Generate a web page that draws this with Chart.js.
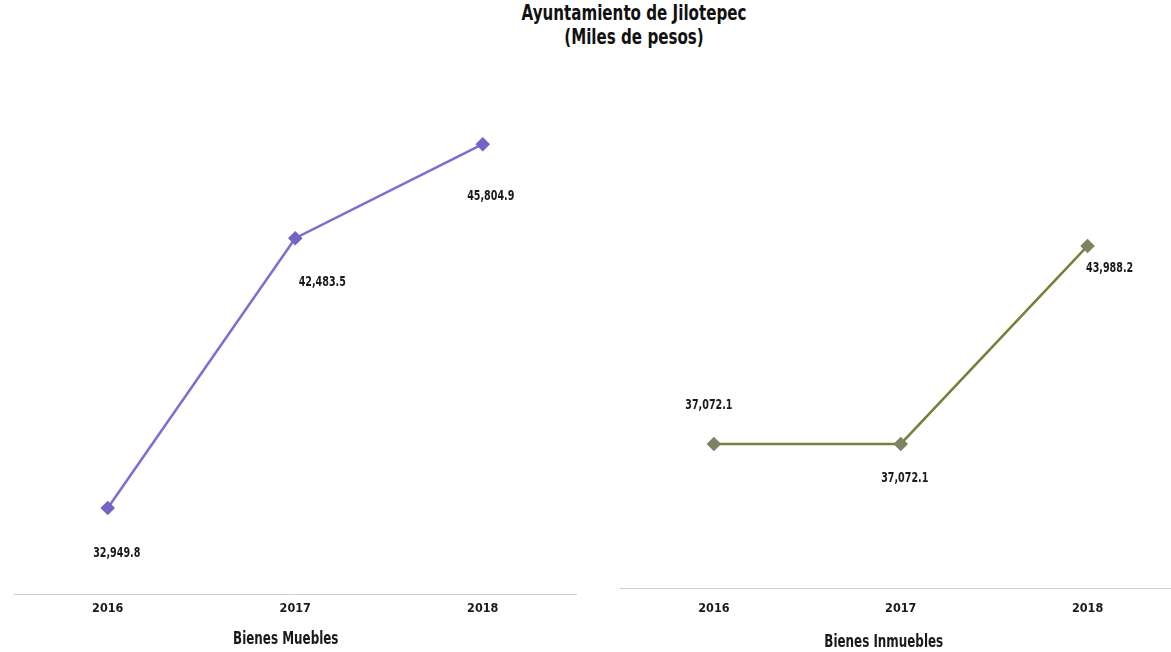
<!DOCTYPE html>
<html><head><meta charset="utf-8">
<script src="https://cdn.jsdelivr.net/npm/chart.js@4.4.0/dist/chart.umd.min.js"></script>
<style>
html,body{margin:0;padding:0;background:#fff;overflow:hidden;width:1171px;height:652px;position:relative;}
#title{position:absolute;left:0;width:1268px;top:1px;text-align:center;font-family:"Liberation Sans Narrow","DejaVu Sans Condensed","Arial Narrow",sans-serif;font-weight:bold;font-size:21px;line-height:24px;color:#111;transform:scaleX(0.8);transform-origin:634px 0;}
.wrap{position:absolute;top:0;height:652px;}
</style></head>
<body>
<div id="title">Ayuntamiento de Jilotepec<br>(Miles de pesos)</div>
<div class="wrap" style="left:0;width:590px"><canvas id="c1" width="590" height="652"></canvas></div>
<div class="wrap" style="left:590px;width:600px"><canvas id="c2" width="600" height="652"></canvas></div>
<script>
const years = ['2016', '2017', '2018'];
const bienesMuebles = [32949.8, 42483.5, 45804.9];
const bienesInmuebles = [37072.1, 37072.1, 43988.2];
const titleMuebles = 'Bienes Muebles';
const titleInmuebles = 'Bienes Inmuebles';

const FONT = '"Liberation Sans Narrow","DejaVu Sans Condensed","Arial Narrow",sans-serif';
const fmt = v => v.toLocaleString('en-US', {minimumFractionDigits: 1, maximumFractionDigits: 1});

function narrowText(ctx, text, x, y, size, sx) {
  ctx.save();
  ctx.translate(x, y);
  ctx.scale(sx, 1);
  ctx.font = 'bold ' + size + 'px ' + FONT;
  ctx.fillStyle = '#1a1a1a';
  ctx.textAlign = 'center';
  ctx.textBaseline = 'middle';
  ctx.fillText(text, 0, 0);
  ctx.restore();
}

const valueLabels = {
  id: 'valueLabels',
  afterDatasetsDraw(chart, args, opts) {
    chart.data.datasets.forEach((ds, di) => {
      const meta = chart.getDatasetMeta(di);
      meta.data.forEach((pt, i) => {
        const off = opts.offsets[i];
        narrowText(chart.ctx, fmt(ds.data[i]), pt.x + off[0], pt.y + off[1], 14, 0.76);
      });
    });
  }
};

const axisTitle = {
  id: 'axisTitle',
  afterDraw(chart, args, opts) {
    const a = chart.chartArea;
    narrowText(chart.ctx, opts.text, (a.left + a.right) / 2 + opts.dx, chart.height - opts.fromBottom, 17, 0.78);
  }
};

function makeChart(id, data, title, color, markColor, pad, yMin, yMax, axisH, tickPad, offsets, tdx, tfb) {
  return new Chart(document.getElementById(id), {
    type: 'line',
    data: {
      labels: years,
      datasets: [{
        data: data,
        borderColor: color,
        borderWidth: 2.5,
        pointStyle: 'rectRot',
        pointRadius: 5.5,
        pointBackgroundColor: markColor,
        pointBorderColor: markColor,
        tension: 0,
        clip: false
      }]
    },
    options: {
      responsive: false,
      animation: false,
      devicePixelRatio: 1,
      layout: {padding: pad},
      plugins: {
        legend: {display: false},
        tooltip: {enabled: false},
        valueLabels: {offsets: offsets},
        axisTitle: {text: title, dx: tdx, fromBottom: tfb}
      },
      scales: {
        x: {
          type: 'category',
          offset: true,
          grid: {display: true, drawOnChartArea: false, drawTicks: false},
          border: {display: true, color: '#cfcfcf', width: 1},
          ticks: {color: '#1a1a1a', padding: tickPad, font: {family: FONT, size: 12.5, weight: 'bold'}},
          title: {display: false},
          afterFit(scale) { scale.height = axisH; }
        },
        y: {display: false, min: yMin, max: yMax}
      }
    },
    plugins: [valueLabels, axisTitle]
  });
}

makeChart('c1', bienesMuebles, titleMuebles, '#7b6fd0', '#7365c6',
  {left: 14, right: 13.5, top: 30, bottom: 0}, 29910, 49840, 58, 7,
  [[9, 45], [27, 44], [8, 52]], -9.5, 12);
makeChart('c2', bienesInmuebles, titleInmuebles, '#76803a', '#7d8464',
  {left: 30.5, right: 9, top: 40, bottom: 0}, 32040, 51180, 64, 13,
  [[-5, -39], [4, 34], [22, 22]], -17, 9);
</script>
</body></html>
